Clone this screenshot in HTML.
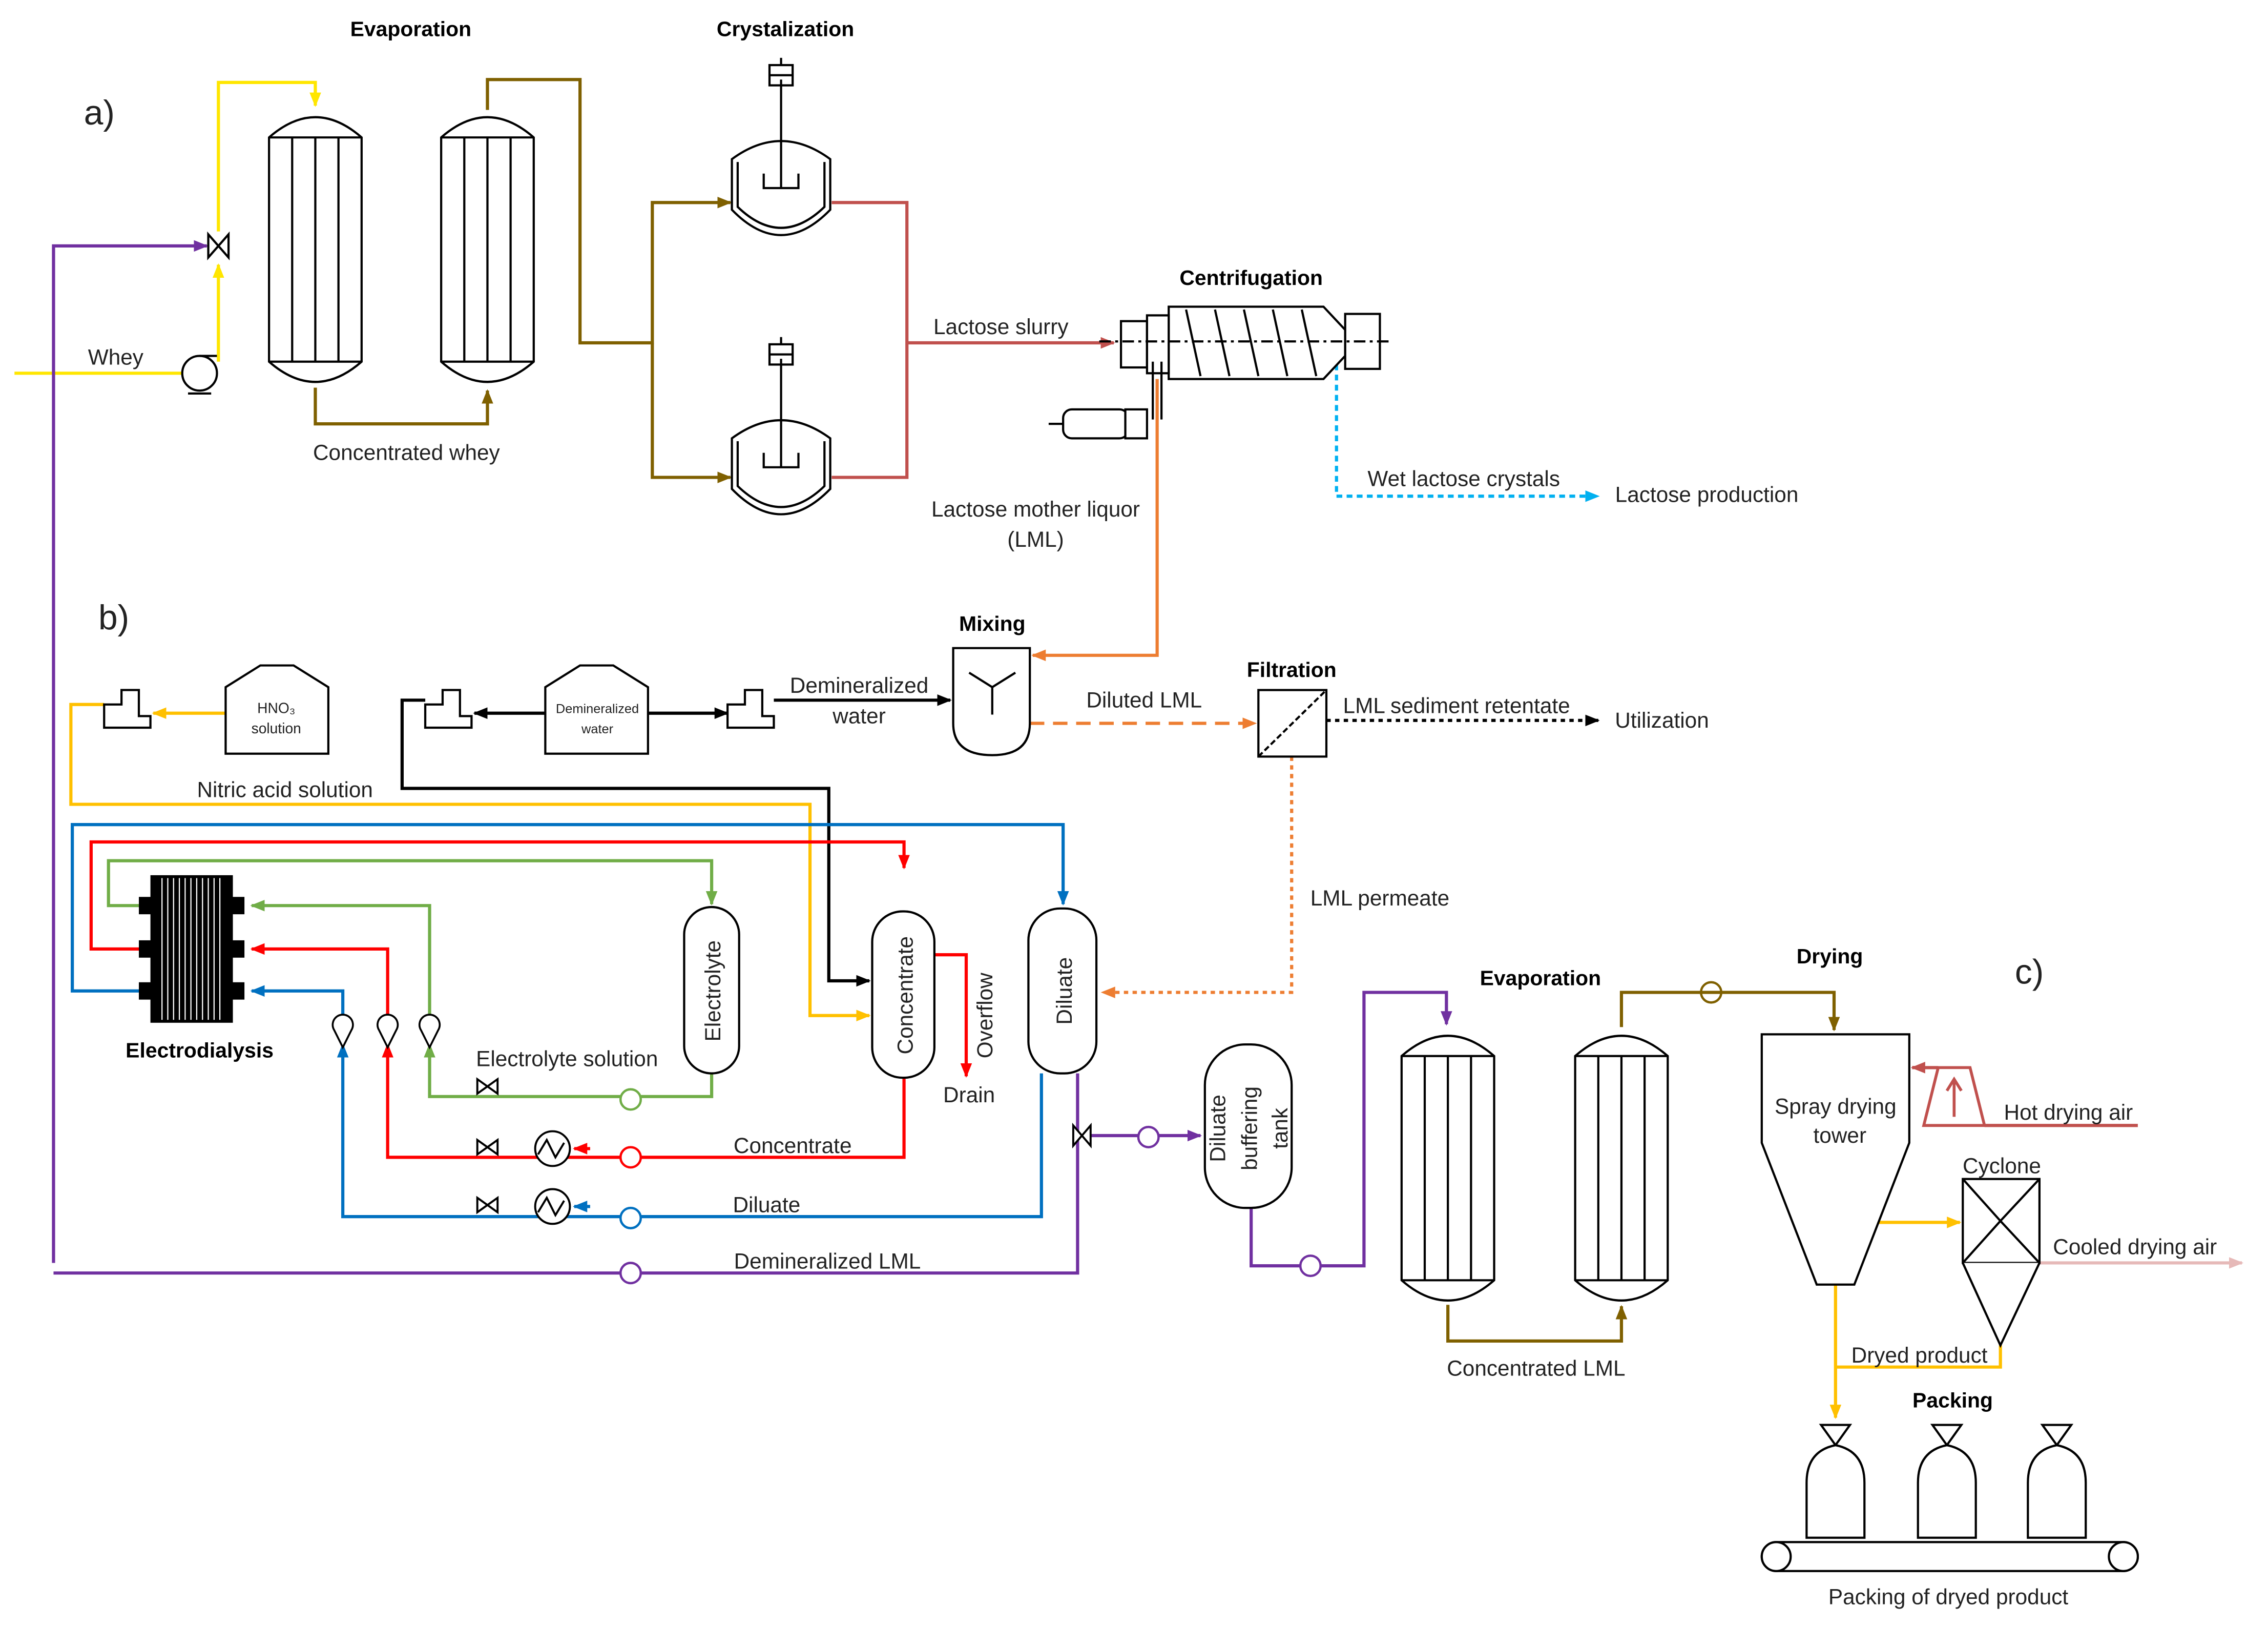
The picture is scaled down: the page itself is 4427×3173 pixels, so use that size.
<!DOCTYPE html>
<html><head><meta charset="utf-8"><style>
html,body{margin:0;padding:0;background:#fff;}
svg{display:block;}
text{font-family:"Liberation Sans",sans-serif;font-size:15px;fill:#222;}
.b{font-weight:bold;font-size:14.5px;fill:#000;}
.big{font-size:24px;}
</style></head><body>
<svg width="4427" height="3173" viewBox="0 0 1568 1124" preserveAspectRatio="none" xmlns="http://www.w3.org/2000/svg">
<defs>
<marker id="mY" markerWidth="10" markerHeight="10" refX="9" refY="5" orient="auto" markerUnits="userSpaceOnUse"><path d="M0,1 L10,5 L0,9 Z" fill="#FFE600"/></marker>
<marker id="mP" markerWidth="10" markerHeight="10" refX="9" refY="5" orient="auto" markerUnits="userSpaceOnUse"><path d="M0,1 L10,5 L0,9 Z" fill="#7030A0"/></marker>
<marker id="mBr" markerWidth="10" markerHeight="10" refX="9" refY="5" orient="auto" markerUnits="userSpaceOnUse"><path d="M0,1 L10,5 L0,9 Z" fill="#7F6000"/></marker>
<marker id="mRB" markerWidth="10" markerHeight="10" refX="9" refY="5" orient="auto" markerUnits="userSpaceOnUse"><path d="M0,1 L10,5 L0,9 Z" fill="#C0504D"/></marker>
<marker id="mO" markerWidth="10" markerHeight="10" refX="9" refY="5" orient="auto" markerUnits="userSpaceOnUse"><path d="M0,1 L10,5 L0,9 Z" fill="#ED7D31"/></marker>
<marker id="mLB" markerWidth="10" markerHeight="10" refX="9" refY="5" orient="auto" markerUnits="userSpaceOnUse"><path d="M0,1 L10,5 L0,9 Z" fill="#00B0F0"/></marker>
<marker id="mK" markerWidth="10" markerHeight="10" refX="9" refY="5" orient="auto" markerUnits="userSpaceOnUse"><path d="M0,1 L10,5 L0,9 Z" fill="#000"/></marker>
<marker id="mA" markerWidth="10" markerHeight="10" refX="9" refY="5" orient="auto" markerUnits="userSpaceOnUse"><path d="M0,1 L10,5 L0,9 Z" fill="#FFC000"/></marker>
<marker id="mB" markerWidth="10" markerHeight="10" refX="9" refY="5" orient="auto" markerUnits="userSpaceOnUse"><path d="M0,1 L10,5 L0,9 Z" fill="#0070C0"/></marker>
<marker id="mR" markerWidth="10" markerHeight="10" refX="9" refY="5" orient="auto" markerUnits="userSpaceOnUse"><path d="M0,1 L10,5 L0,9 Z" fill="#FF0000"/></marker>
<marker id="mG" markerWidth="10" markerHeight="10" refX="9" refY="5" orient="auto" markerUnits="userSpaceOnUse"><path d="M0,1 L10,5 L0,9 Z" fill="#70AD47"/></marker>
<marker id="mPk" markerWidth="10" markerHeight="10" refX="9" refY="5" orient="auto" markerUnits="userSpaceOnUse"><path d="M0,1 L10,5 L0,9 Z" fill="#E6B9B8"/></marker>
<g id="evap" fill="none" stroke="#000" stroke-width="1.5">
<path d="M0,20 Q32,-8 64,20 V175 Q32,203 0,175 Z" fill="#fff"/>
<path d="M0,20 H64 M0,175 H64 M16,20 V175 M32,20 V175 M48,20 V175"/>
</g>
<g id="cryst" fill="none" stroke="#000" stroke-width="1.5">
<path d="M-34,0 V35 Q0,70 34,35 V0 Q0,-25 -34,0 Z" fill="#fff"/>
<path d="M-30,2 V33 Q0,62 30,33 V2"/>
<path d="M0,-55 V20 M-12,10 V20 H12 V10"/>
<rect x="-8" y="-65" width="16" height="14"/><path d="M-8,-58 H8 M0,-70 V-65"/>
</g>
<g id="bag" fill="#fff" stroke="#000" stroke-width="1.5">
<path d="M-10,0 H10 L0,14 Z"/>
<path d="M-20,40 Q-20,18 0,14 Q20,18 20,40 V78 H-20 Z"/>
</g>
<g id="pump" fill="#fff" stroke-width="1.5"><circle r="7"/><path d="M-6,8 H6" /></g>
</defs>

<!-- labels section headers -->
<text x="58" y="86" class="big">a)</text>
<text x="68" y="435" class="big">b)</text>
<text x="1393" y="680" class="big">c)</text>
<text x="284" y="25" class="b" text-anchor="middle">Evaporation</text>
<text x="543" y="25" class="b" text-anchor="middle">Crystalization</text>
<text x="865" y="197" class="b" text-anchor="middle">Centrifugation</text>
<text x="686" y="436" class="b" text-anchor="middle">Mixing</text>
<text x="893" y="468" class="b" text-anchor="middle">Filtration</text>
<text x="1065" y="681" class="b" text-anchor="middle">Evaporation</text>
<text x="1265" y="666" class="b" text-anchor="middle">Drying</text>
<text x="1350" y="973" class="b" text-anchor="middle">Packing</text>
<text x="138" y="731" class="b" text-anchor="middle">Electrodialysis</text>

<!-- a) lines -->
<g fill="none" stroke-width="2.2">
<path d="M10,258 H130" stroke="#FFE600"/>
<path d="M151,250 V183" stroke="#FFE600" marker-end="url(#mY)"/>
<path d="M151,160 V57 H218 V73" stroke="#FFE600" marker-end="url(#mY)"/>
<path d="M37,873 V170 H143" stroke="#7030A0" marker-end="url(#mP)"/>
<path d="M218,268 V293 H337 V270" stroke="#7F6000" marker-end="url(#mBr)"/>
<path d="M337,76 V55 H401 V237 H451 V140 H505" stroke="#7F6000" marker-end="url(#mBr)"/>
<path d="M451,237 V330 H505" stroke="#7F6000" marker-end="url(#mBr)"/>
<path d="M575,140 H627 V330 H575 M627,237 H770" stroke="#C0504D" marker-end="url(#mRB)"/>
<path d="M800,262 V453 H714" stroke="#ED7D31" marker-end="url(#mO)"/>
<path d="M924,252 V343 H1105" stroke="#00B0F0" stroke-dasharray="4,3" marker-end="url(#mLB)"/>
</g>
<use href="#evap" x="186" y="75"/>
<use href="#evap" x="305" y="75"/>
<use href="#cryst" x="540" y="110"/>
<use href="#cryst" x="540" y="303"/>
<!-- whey pump & valve -->
<circle cx="138" cy="258" r="12" fill="#fff" stroke="#000" stroke-width="1.5"/>
<path d="M130,272 H146 M138,246 H150" stroke="#000" stroke-width="1.5"/>
<path d="M144,162 L158,178 V162 L144,178 Z" fill="#fff" stroke="#000" stroke-width="1.5"/>
<!-- centrifuge -->
<g fill="#fff" stroke="#000" stroke-width="1.5">
<rect x="775" y="222" width="18" height="32"/>
<path d="M808,212 H915 L930,228 V246 L915,262 H808 Z"/>
<rect x="930" y="217" width="24" height="38"/>
<rect x="793" y="218" width="15" height="40"/>
<path d="M820,214 L830,260 M840,214 L850,260 M860,214 L870,260 M880,214 L890,260 M900,214 L910,260" fill="none"/>
<path d="M760,236 H960" stroke-dasharray="8,3,2,3" fill="none"/>
<rect x="735" y="283" width="45" height="20" rx="6"/>
<rect x="778" y="283" width="15" height="20"/>
<path d="M725,293 H735 M797,250 V290 M803,250 V290" fill="none"/>
</g>
<text x="692" y="231" text-anchor="middle">Lactose slurry</text>
<text x="281" y="318" text-anchor="middle">Concentrated whey</text>
<text x="80" y="252" text-anchor="middle">Whey</text>
<text x="716" y="357" text-anchor="middle">Lactose mother liquor</text>
<text x="716" y="378" text-anchor="middle">(LML)</text>
<text x="1012" y="336" text-anchor="middle">Wet lactose crystals</text>
<text x="1180" y="347" text-anchor="middle">Lactose production</text>

<!-- b) -->
<g fill="none" stroke-width="2.2">
<path d="M156,493 H106" stroke="#FFC000" marker-end="url(#mA)"/>
<path d="M377,493 H328" stroke="#000" marker-end="url(#mK)"/>
<path d="M448,493 H503" stroke="#000" marker-end="url(#mK)"/>
<path d="M535,484 H657" stroke="#000" marker-end="url(#mK)"/>
<path d="M712,500 H868" stroke="#ED7D31" stroke-dasharray="10,6" marker-end="url(#mO)"/>
<path d="M917,498 H1105" stroke="#000" stroke-dasharray="3,3" marker-end="url(#mK)"/>
<path d="M893,523 V686 H762" stroke="#ED7D31" stroke-dasharray="3,3" marker-end="url(#mO)"/>
<path d="M72,487 H49 V556 H560 V702 H601" stroke="#FFC000" marker-end="url(#mA)"/>
<path d="M294,484 H278 V545 H573 V678 H601" stroke="#000" marker-end="url(#mK)"/>
<path d="M98,685 H50 V570 H735 V625" stroke="#0070C0" marker-end="url(#mB)"/>
<path d="M98,656 H63 V582 H625 V600" stroke="#FF0000" marker-end="url(#mR)"/>
<path d="M98,626 H75 V595 H492 V625" stroke="#70AD47" marker-end="url(#mG)"/>
<path d="M492,742 V758 H297 V722" stroke="#70AD47" marker-end="url(#mG)"/>
<path d="M297,706 V626 H174" stroke="#70AD47" marker-end="url(#mG)"/>
<path d="M625,745 V800 H268 V722" stroke="#FF0000" marker-end="url(#mR)"/>
<path d="M268,706 V656 H174" stroke="#FF0000" marker-end="url(#mR)"/>
<path d="M720,742 V841 H237 V722" stroke="#0070C0" marker-end="url(#mB)"/>
<path d="M237,706 V685 H174" stroke="#0070C0" marker-end="url(#mB)"/>
<path d="M646,660 H668 V744" stroke="#FF0000" marker-end="url(#mR)"/>
<path d="M745,742 V880 H37" stroke="#7030A0"/>
<path d="M748,785 H830" stroke="#7030A0" marker-end="url(#mP)"/>
<path d="M865,835 V875 H943 V686 H1000 V708" stroke="#7030A0" marker-end="url(#mP)"/>
</g>
<!-- tanks -->
<g fill="#fff" stroke="#000" stroke-width="1.5">
<path d="M156,475 L180,460 H203 L227,475 V521 H156 Z"/>
<path d="M377,475 L401,460 H424 L448,475 V521 H377 Z"/>
<path d="M72,503 V487 H84 V477 H96 V495 H104 V503 Z"/>
<path d="M294,503 V487 H306 V477 H318 V495 H326 V503 Z"/>
<path d="M503,503 V487 H515 V477 H527 V495 H535 V503 Z"/>
<path d="M659,448 H712 V500 Q712,522 686,522 Q659,522 659,500 Z"/>
<path d="M686,475 V494 M686,475 L670,465 M686,475 L702,465" fill="none"/>
<rect x="870" y="477" width="47" height="46"/>
<path d="M870,523 L917,477" stroke-dasharray="4,2" fill="none"/>
<rect x="473" y="627" width="38" height="115" rx="19"/>
<rect x="603" y="630" width="43" height="115" rx="21"/>
<rect x="711" y="628" width="47" height="114" rx="22"/>
<rect x="833" y="722" width="60" height="113" rx="28"/>
</g>
<text x="191" y="493" text-anchor="middle" style="font-size:10px">HNO₃</text>
<text x="191" y="507" text-anchor="middle" style="font-size:10px">solution</text>
<text x="413" y="493" text-anchor="middle" style="font-size:9px">Demineralized</text>
<text x="413" y="507" text-anchor="middle" style="font-size:9px">water</text>
<!-- electrodialysis stack -->
<rect x="104" y="605" width="57" height="102" fill="#000"/>
<g stroke="#fff" stroke-width="0.8">
<path d="M112,607V705M116,607V705M120,607V705M124,607V705M128,607V705M132,607V705M136,607V705M140,607V705M144,607V705M148,607V705M152,607V705"/>
</g>
<g fill="#000"><rect x="96" y="620" width="10" height="12"/><rect x="96" y="650" width="10" height="12"/><rect x="96" y="679" width="10" height="12"/><rect x="159" y="620" width="10" height="12"/><rect x="159" y="650" width="10" height="12"/><rect x="159" y="679" width="10" height="12"/></g>
<!-- flowmeters -->
<g fill="#fff" stroke="#000" stroke-width="1.3">
<path d="M231,712 A7,7 0 1 1 243,712 L237,724 Z"/>
<path d="M262,712 A7,7 0 1 1 274,712 L268,724 Z"/>
<path d="M291,712 A7,7 0 1 1 303,712 L297,724 Z"/>
</g>
<!-- valves & exchangers -->
<g fill="#fff" stroke="#000" stroke-width="1.4">
<path d="M330,746 L344,756 V746 L330,756 Z"/>
<path d="M330,788 L344,798 V788 L330,798 Z"/>
<path d="M330,828 L344,838 V828 L330,838 Z"/>
<circle cx="382" cy="794" r="12"/><path d="M372,798 L378,788 L384,800 L390,790" fill="none"/>
<circle cx="382" cy="834" r="12"/><path d="M372,838 L378,828 L384,840 L390,830" fill="none"/>
<path d="M742,778 L754,792 V778 L742,792 Z"/>
</g>
<path d="M408,794 H397" stroke="#FF0000" stroke-width="2.2" marker-end="url(#mR)"/>
<path d="M408,834 H397" stroke="#0070C0" stroke-width="2.2" marker-end="url(#mB)"/>
<!-- small pumps -->
<g stroke-width="1.6" fill="#fff">
<circle cx="436" cy="760" r="7" stroke="#70AD47"/>
<circle cx="436" cy="800" r="7" stroke="#FF0000"/>
<circle cx="436" cy="842" r="7" stroke="#0070C0"/>
<circle cx="436" cy="880" r="7" stroke="#7030A0"/>
<circle cx="794" cy="786" r="7" stroke="#7030A0"/>
<circle cx="906" cy="875" r="7" stroke="#7030A0"/>
<circle cx="1183" cy="686" r="7" stroke="#7F6000"/>
</g>
<text x="594" y="479" text-anchor="middle">Demineralized</text>
<text x="594" y="500" text-anchor="middle">water</text>
<text x="791" y="489" text-anchor="middle">Diluted LML</text>
<text x="1007" y="493" text-anchor="middle">LML sediment retentate</text>
<text x="1149" y="503" text-anchor="middle">Utilization</text>
<text x="197" y="551" text-anchor="middle">Nitric acid solution</text>
<text x="954" y="626" text-anchor="middle">LML permeate</text>
<text x="392" y="737" text-anchor="middle">Electrolyte solution</text>
<text x="670" y="762" text-anchor="middle">Drain</text>
<text x="548" y="797" text-anchor="middle">Concentrate</text>
<text x="530" y="838" text-anchor="middle">Diluate</text>
<text x="572" y="877" text-anchor="middle">Demineralized LML</text>
<text transform="translate(498,685) rotate(-90)" text-anchor="middle">Electrolyte</text>
<text transform="translate(631,688) rotate(-90)" text-anchor="middle">Concentrate</text>
<text transform="translate(741,685) rotate(-90)" text-anchor="middle">Diluate</text>
<text transform="translate(686,702) rotate(-90)" text-anchor="middle">Overflow</text>
<text transform="translate(847,780) rotate(-90)" text-anchor="middle">Diluate</text>
<text transform="translate(869,780) rotate(-90)" text-anchor="middle">buffering</text>
<text transform="translate(890,780) rotate(-90)" text-anchor="middle">tank</text>

<!-- c) -->
<use href="#evap" x="969" y="710"/>
<use href="#evap" x="1089" y="710"/>
<g fill="none" stroke-width="2.2">
<path d="M1001,902 V927 H1121 V903" stroke="#7F6000" marker-end="url(#mBr)"/>
<path d="M1121,710 V686 H1268 V712" stroke="#7F6000" marker-end="url(#mBr)"/>
<path d="M1478,778 H1372 M1330,738 H1322" stroke="#C0504D"/>
<path d="M1340,738 H1322" stroke="#C0504D" marker-end="url(#mRB)"/>
<path d="M1296,845 H1355" stroke="#FFC000" marker-end="url(#mA)"/>
<path d="M1410,873 H1550" stroke="#E6B9B8" marker-end="url(#mPk)"/>
<path d="M1269,888 V980" stroke="#FFC000" marker-end="url(#mA)"/>
<path d="M1383,930 V945 H1269" stroke="#FFC000"/>
</g>
<g fill="#fff" stroke="#000" stroke-width="1.5">
<path d="M1218,715 H1320 V790 L1282,888 H1256 L1218,790 Z"/>
<rect x="1357" y="815" width="53" height="58"/>
<path d="M1357,815 L1383,844 L1357,873 M1410,815 L1383,844 L1410,873" fill="none"/>
<path d="M1357,873 L1383,930 L1410,873"/>
<rect x="1218" y="1066" width="260" height="20" rx="10"/>
<circle cx="1228" cy="1076" r="10"/><circle cx="1468" cy="1076" r="10"/>
</g>
<path d="M1330,778 L1340,738 H1362 L1372,778 Z" fill="none" stroke="#C0504D" stroke-width="2"/>
<path d="M1351,772 V748 M1346,754 L1351,746 L1356,754" fill="none" stroke="#C0504D" stroke-width="2"/>
<use href="#bag" x="1269" y="985"/>
<use href="#bag" x="1346" y="985"/>
<use href="#bag" x="1422" y="985"/>
<text x="1269" y="770" text-anchor="middle">Spray drying</text>
<text x="1272" y="790" text-anchor="middle">tower</text>
<text x="1430" y="774" text-anchor="middle">Hot drying air</text>
<text x="1384" y="811" text-anchor="middle">Cyclone</text>
<text x="1476" y="867" text-anchor="middle">Cooled drying air</text>
<text x="1327" y="942" text-anchor="middle">Dryed product</text>
<text x="1062" y="951" text-anchor="middle">Concentrated LML</text>
<text x="1347" y="1109" text-anchor="middle">Packing of dryed product</text>
</svg>
</body></html>
